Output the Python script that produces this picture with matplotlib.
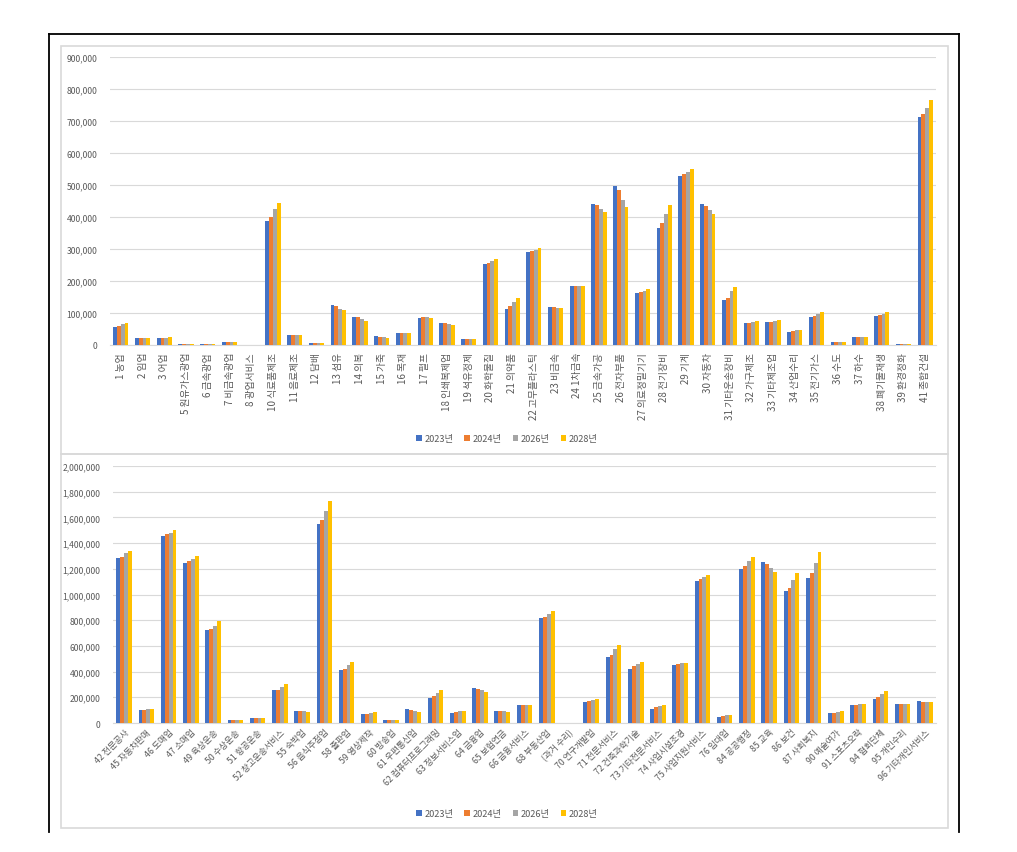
import matplotlib.pyplot as plt
import numpy as np
from matplotlib.lines import Line2D
from matplotlib.patches import Rectangle
from matplotlib.ticker import FuncFormatter

plt.rcParams['font.family'] = ['Noto Sans CJK KR', 'DejaVu Sans']

W, H = 1017, 853

series = ['2023년', '2024년', '2026년', '2028년']
colors = ['#4472C4', '#ED7D31', '#A5A5A5', '#FFC000']

# 상단: 농림어업 ~ 건설업 (단위: 명)
top_labels = ['1 농업', '2 임업', '3 어업', '5 원유가스광업', '6 금속광업', '7 비금속광업',
              '8 광업서비스', '10 식료품제조', '11 음료제조', '12 담배', '13 섬유', '14 의복',
              '15 가죽', '16 목재', '17 펄프', '18 인쇄복제업', '19 석유정제', '20 화학물질',
              '21 의약품', '22 고무플라스틱', '23 비금속', '24 1차금속', '25 금속가공',
              '26 전자부품', '27 의료정밀기기', '28 전기장비', '29 기계', '30 자동차',
              '31 기타운송장비', '32 가구제조', '33 기타제조업', '34 산업수리', '35 전기가스',
              '36 수도', '37 하수', '38 폐기물재생', '39 환경정화', '41 종합건설']
top_2023 = [56000, 22000, 22000, 4000, 4000, 9000, 500, 388000, 32000, 6000, 125000, 89000,
            28000, 38000, 85000, 69000, 19000, 253000, 113000, 291000, 120000, 183000, 441000,
            496000, 163000, 366000, 529000, 441000, 141000, 69000, 72000, 41000, 88000,
            9000, 25000, 91000, 3000, 713000]
top_2024 = [60000, 22000, 22000, 4000, 3000, 9000, 500, 400000, 32000, 6000, 123000, 86000,
            25000, 38000, 86000, 68000, 19000, 257000, 123000, 295000, 120000, 183000, 438000,
            485000, 166000, 381000, 535000, 435000, 148000, 69000, 72000, 44000, 92000,
            9000, 25000, 94000, 3000, 723000]
top_2026 = [66000, 22000, 22000, 4000, 3000, 9000, 500, 425000, 32000, 6000, 113000, 81000,
            25000, 38000, 86000, 66000, 19000, 264000, 135000, 298000, 117000, 183000, 425000,
            453000, 169000, 410000, 542000, 422000, 168000, 72000, 75000, 47000, 97000,
            9000, 25000, 97000, 3000, 741000]
top_2028 = [69000, 22000, 25000, 4000, 3000, 9000, 500, 445000, 32000, 6000, 109000, 75000,
            22000, 38000, 85000, 63000, 19000, 269000, 148000, 303000, 117000, 184000, 416000,
            432000, 175000, 439000, 551000, 408000, 181000, 75000, 78000, 47000, 103000,
            9000, 25000, 103000, 3000, 766000]

# 하단: 서비스업
bot_labels = ['42 전문공사', '45 자동차판매', '46 도매업', '47 소매업', '49 육상운송',
              '50 수상운송', '51 항공운송', '52 창고운송서비스', '55 숙박업', '56 음식주점업',
              '58 출판업', '59 영상제작', '60 방송업', '61 우편통신업', '62 컴퓨터프로그래밍',
              '63 정보서비스업', '64 금융업', '65 보험연금', '66 금융서비스', '68 부동산업',
              '(과거 수리)', '70 연구개발업', '71 전문서비스', '72 건축과학기술',
              '73 기타전문서비스', '74 사업시설조경', '75 사업지원서비스', '76 임대업',
              '84 공공행정', '85 교육', '86 보건', '87 사회복지', '90 예술여가',
              '91 스포츠오락', '94 협회단체', '95 개인수리', '96 기타개인서비스']
bot_2023 = [1287000, 104000, 1458000, 1245000, 724000, 21000, 42000, 257000, 96000, 1546000,
            415000, 70000, 26000, 112000, 192000, 80000, 275000, 96000, 137000, 815000,
            0, 163000, 516000, 423000, 112000, 454000, 1108000, 49000,
            1201000, 1256000, 1027000, 1128000, 80000, 143000, 189000, 150000, 174000]
bot_2024 = [1295000, 104000, 1473000, 1261000, 734000, 21000, 42000, 257000, 96000, 1582000,
            420000, 70000, 26000, 104000, 210000, 88000, 267000, 93000, 137000, 822000,
            0, 169000, 532000, 441000, 122000, 462000, 1123000, 57000,
            1219000, 1240000, 1053000, 1170000, 80000, 143000, 205000, 150000, 166000]
bot_2026 = [1320000, 112000, 1481000, 1276000, 757000, 21000, 42000, 283000, 93000, 1652000,
            454000, 80000, 26000, 93000, 236000, 93000, 257000, 91000, 143000, 851000,
            0, 182000, 573000, 462000, 135000, 467000, 1134000, 65000,
            1263000, 1209000, 1115000, 1248000, 88000, 150000, 228000, 150000, 166000]
bot_2028 = [1341000, 112000, 1502000, 1302000, 791000, 21000, 42000, 304000, 88000, 1730000,
            477000, 88000, 26000, 88000, 259000, 96000, 244000, 88000, 143000, 874000,
            0, 189000, 610000, 477000, 143000, 467000, 1152000, 65000,
            1294000, 1178000, 1170000, 1333000, 93000, 150000, 252000, 150000, 166000]

fig = plt.figure(figsize=(W / 100, H / 100), dpi=100)
fig.patch.set_facecolor('white')


def px_axes(x0, y0, x1, y1):
    return fig.add_axes([x0 / W, 1 - y1 / H, (x1 - x0) / W, (y1 - y0) / H])


def grouped_bars(ax, labels, data, ymax, step, xsize):
    x = np.arange(len(labels))
    bw = 0.175
    for i, (vals, c, s) in enumerate(zip(data, colors, series)):
        ax.bar(x + (i - 1.5) * bw, vals, bw, color=c, label=s, zorder=3)
    ax.set_xlim(-0.5, len(labels) - 0.5)
    ax.set_ylim(0, ymax)
    ax.set_yticks(np.arange(0, ymax + 1, step))
    ax.yaxis.set_major_formatter(FuncFormatter(lambda v, p: f'{int(v):,}'))
    ax.grid(axis='y', color='#D9D9D9', linewidth=0.8, zorder=0)
    for s in ['top', 'right', 'left']:
        ax.spines[s].set_visible(False)
    ax.spines['bottom'].set_color('#D9D9D9')
    ax.tick_params(axis='y', length=0, labelsize=6.2, labelcolor='#595959', pad=9)
    ax.tick_params(axis='x', length=0, labelsize=xsize, labelcolor='#595959')
    ax.set_xticks(x)
    return x


# 상단 차트
ax1 = px_axes(110, 58, 936, 346)
grouped_bars(ax1, top_labels, [top_2023, top_2024, top_2026, top_2028], 900000, 100000, 7)
ax1.set_xticklabels(top_labels, rotation=90, ha='center', va='top')
ax1.tick_params(axis='x', pad=5)

# 하단 차트
ax2 = px_axes(113, 467, 936, 724)
grouped_bars(ax2, bot_labels, [bot_2023, bot_2024, bot_2026, bot_2028], 2000000, 200000, 6.3)
ax2.set_xticklabels(bot_labels, rotation=45, ha='right', va='top', rotation_mode='anchor')
ax2.tick_params(axis='x', pad=3)

# 범례
for ax, ly in [(ax1, 440), (ax2, 815)]:
    ax.legend(loc='center', bbox_to_anchor=(507 / W, 1 - ly / H), bbox_transform=fig.transFigure,
              ncol=4, frameon=False, fontsize=6.6, labelcolor='#595959',
              handlelength=0.6, handleheight=0.6, handletextpad=0.3, columnspacing=1.2)

# 차트 영역 테두리
for (x0, y0, x1, y1) in [(61, 47, 948, 455), (61, 455, 948, 829)]:
    fig.add_artist(Rectangle((x0 / W, 1 - y1 / H), (x1 - x0) / W, (y1 - y0) / H,
                             transform=fig.transFigure, fill=False,
                             edgecolor='#D9D9D9', linewidth=1.2))

# 바깥 검은 틀
frame = dict(transform=fig.transFigure, color='black', linewidth=1.3)
fig.add_artist(Line2D([49 / W, 959 / W], [1 - 35 / H, 1 - 35 / H], **frame))
fig.add_artist(Line2D([49 / W, 49 / W], [1 - 35 / H, 1 - 833 / H], **frame))
fig.add_artist(Line2D([959 / W, 959 / W], [1 - 35 / H, 1 - 833 / H], **frame))

fig.savefig('out.png', dpi=100)
